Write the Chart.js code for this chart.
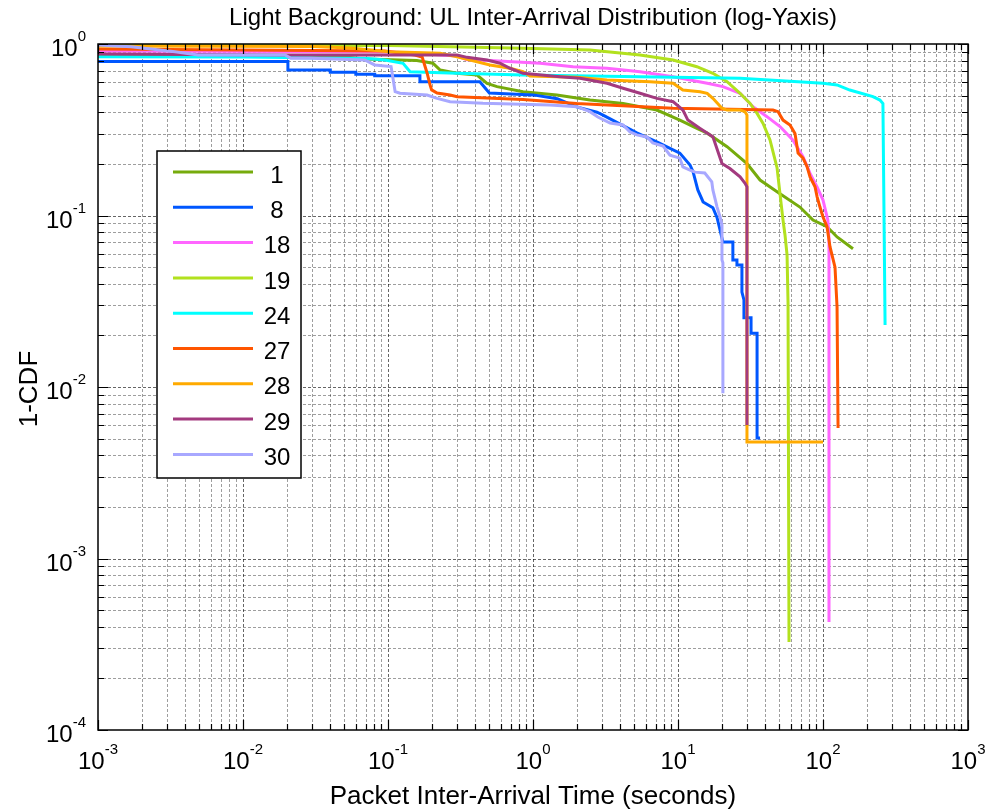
<!DOCTYPE html>
<html lang="en">
<head>
<meta charset="UTF-8">
<title>UL Inter-Arrival Distribution</title>
<script src="https://cdn.jsdelivr.net/npm/chart.js"></script>
<style>
  body { margin: 0; background: #fff; }
  canvas { display: block; }
</style>
</head>
<body>
<canvas id="grafico" width="990" height="811"></canvas>
<script>
  // series names + colours (legend order)
  const nomes = ['1', '8', '18', '19', '24', '27', '28', '29', '30'];
  const cores = ['#76AB0C', '#0057FF', '#FF66FF', '#B2E11E', '#00FFFF', '#FF5500', '#FFAA00', '#A33A7F', '#A8A8FF'];

  // 1-CDF curves (x = seconds, y = 1-CDF)
  const x1 = [0.001, 0.0467, 0.069, 0.158, 0.204, 0.229, 0.299, 0.411, 0.482, 0.565, 0.853, 1.46, 2.47, 4.18, 7.16, 10.3, 13.5, 15.9, 21.8, 29.9, 36.8, 50.5, 69.3, 85.3, 106.6, 125, 161];
  const y1 = [0.85, 0.846, 0.818, 0.8, 0.772, 0.705, 0.675, 0.659, 0.59, 0.564, 0.527, 0.504, 0.471, 0.45, 0.412, 0.36, 0.322, 0.302, 0.252, 0.201, 0.161, 0.134, 0.112, 0.094, 0.086, 0.075, 0.064];

  const x8 = [0.001, 0.0204, 0.0204, 0.04, 0.04, 0.06, 0.06, 0.081, 0.081, 0.166, 0.166, 0.43, 0.5, 1.0, 1.47, 2.0, 2.76, 3.04, 5.2, 7.2, 10.3, 12.1, 12.7, 13.7, 14.9, 17.4, 18.6, 20.4, 23.9, 23.9, 25.5, 25.5, 27.6, 27.6, 28.5, 28.5, 31.9, 31.9, 35.1, 35.1, 36.8];
  const y8 = [0.79, 0.79, 0.705, 0.705, 0.684, 0.684, 0.666, 0.666, 0.654, 0.654, 0.603, 0.603, 0.518, 0.505, 0.48, 0.43, 0.4, 0.385, 0.303, 0.268, 0.231, 0.197, 0.18, 0.141, 0.12, 0.111, 0.097, 0.07, 0.07, 0.055, 0.055, 0.0515, 0.0515, 0.0358, 0.0322, 0.0253, 0.0253, 0.0206, 0.0206, 0.00504, 0.00504];

  const x18 = [0.001, 0.1, 0.3, 0.35, 0.5, 1.12, 1.89, 3.24, 5.47, 9.25, 12.1, 15.9, 20.4, 26.8, 32.9, 41.1, 50.5, 62.1, 72.8, 81.4, 91, 100, 108, 110, 110];
  const y18 = [0.91, 0.9, 0.85, 0.81, 0.8, 0.772, 0.737, 0.722, 0.689, 0.645, 0.617, 0.59, 0.564, 0.516, 0.431, 0.377, 0.33, 0.275, 0.22, 0.176, 0.147, 0.123, 0.094, 0.072, 0.000426];

  const x19 = [0.001, 0.0314, 0.103, 0.853, 2.47, 5.47, 9.25, 13.5, 17.4, 21.8, 26.8, 31.4, 35.1, 38.6, 43.1, 48.2, 50.5, 53, 54.7, 56.5, 57.4, 58.3];
  const y19 = [0.987, 0.98, 0.98, 0.944, 0.923, 0.863, 0.807, 0.737, 0.675, 0.603, 0.516, 0.45, 0.394, 0.344, 0.276, 0.19, 0.134, 0.094, 0.077, 0.059, 0.031, 0.000326];

  const x24 = [0.001, 0.0103, 0.0728, 0.095, 0.127, 0.142, 0.299, 0.853, 5.47, 26.8, 100, 125, 153, 221, 247, 259, 268];
  const y24 = [0.843, 0.84, 0.823, 0.807, 0.772, 0.689, 0.675, 0.659, 0.645, 0.631, 0.59, 0.577, 0.539, 0.493, 0.471, 0.45, 0.023];

  const x27 = [0.001, 0.095, 0.153, 0.172, 0.186, 0.195, 0.2, 0.218, 0.268, 0.3, 0.853, 2.0, 9.25, 45.2, 49, 53, 59.2, 64.1, 67.3, 72.8, 77.6, 81.4, 88.1, 91, 95.3, 100, 106.6, 111.7, 121, 125, 127];
  const y27 = [0.935, 0.91, 0.863, 0.84, 0.678, 0.577, 0.54, 0.518, 0.504, 0.493, 0.475, 0.45, 0.422, 0.412, 0.403, 0.36, 0.337, 0.301, 0.231, 0.216, 0.193, 0.168, 0.147, 0.129, 0.112, 0.098, 0.086, 0.0658, 0.05, 0.0293, 0.00577];

  const x28 = [0.001, 0.0304, 0.0547, 0.103, 0.229, 0.299, 0.368, 0.505, 0.694, 0.853, 0.953, 2.01, 3.24, 6.41, 9.25, 10.8, 14.2, 15.9, 17.4, 20.1, 21.8, 26.8, 29, 29.9, 29.9, 100];
  const y28 = [0.973, 0.967, 0.948, 0.902, 0.883, 0.843, 0.807, 0.754, 0.722, 0.689, 0.651, 0.64, 0.617, 0.603, 0.59, 0.539, 0.527, 0.516, 0.482, 0.422, 0.412, 0.412, 0.403, 0.385, 0.00478, 0.00478];

  const x29 = [0.001, 0.0195, 0.299, 0.351, 0.482, 0.592, 0.694, 0.853, 1.53, 2.11, 3.24, 4.18, 5.47, 7.16, 9.25, 10.8, 11.7, 14.2, 17.4, 20.1, 22.8, 26.8, 29, 29.9, 29.9];
  const y29 = [0.874, 0.863, 0.863, 0.836, 0.807, 0.772, 0.722, 0.675, 0.645, 0.631, 0.59, 0.552, 0.516, 0.482, 0.461, 0.412, 0.36, 0.322, 0.288, 0.201, 0.188, 0.168, 0.154, 0.147, 0.006];

  const x30 = [0.001, 0.00169, 0.0034, 0.0049, 0.0195, 0.0214, 0.0294, 0.069, 0.081, 0.105, 0.112, 0.121, 0.186, 0.218, 0.268, 0.452, 1.31, 2.01, 2.47, 2.8, 3.4, 4.18, 4.67, 5.2, 6.1, 6.7, 7.9, 8.8, 10.3, 10.8, 12.1, 13.1, 15.3, 17.1, 17.4, 18.6, 19.5, 20.1, 20.1, 20.4, 20.4];
  const y30 = [0.987, 0.964, 0.902, 0.863, 0.863, 0.825, 0.825, 0.807, 0.755, 0.738, 0.527, 0.516, 0.504, 0.482, 0.461, 0.451, 0.441, 0.431, 0.403, 0.375, 0.346, 0.337, 0.307, 0.295, 0.287, 0.265, 0.254, 0.225, 0.216, 0.192, 0.184, 0.179, 0.177, 0.157, 0.141, 0.112, 0.098, 0.088, 0.055, 0.053, 0.0092];

  // axis decades and their labels (10^e)
  const expoentesX = [-3, -2, -1, 0, 1, 2, 3];
  const expoentesY = [-4, -3, -2, -1, 0];

  const titulo = 'Light Background: UL Inter-Arrival Distribution (log-Yaxis)';
  const tituloX = 'Packet Inter-Arrival Time (seconds)';
  const tituloY = '1-CDF';

  const todosX = [x1, x8, x18, x19, x24, x27, x28, x29, x30];
  const todosY = [y1, y8, y18, y19, y24, y27, y28, y29, y30];

  const fonte = "'Liberation Sans', Arial, sans-serif";

  function pontos(xs, ys) {
    const lista = [];
    for (let i = 0; i < xs.length; i++) {
      lista.push({ x: xs[i], y: ys[i] });
    }
    return lista;
  }

  const datasets = [];
  for (let i = 0; i < nomes.length; i++) {
    datasets.push({
      label: nomes[i],
      data: pontos(todosX[i], todosY[i]),
      borderColor: cores[i],
      backgroundColor: cores[i],
      borderWidth: 3,
      pointRadius: 0,
      showLine: true,
      fill: false,
      tension: 0,
      order: nomes.length - i  // later series drawn on top, like matlab
    });
  }

  // all 1..9 x 10^k values inside a range, for grid + minor ticks
  function valoresLog(eMin, eMax) {
    const v = [];
    for (let e = eMin; e < eMax; e++) {
      for (let m = 1; m <= 9; m++) v.push({ val: m * Math.pow(10, e), major: m == 1 });
    }
    v.push({ val: Math.pow(10, eMax), major: true });
    return v;
  }

  function potencia(ctx, exp, x, y, alinhar) {
    ctx.font = '24px ' + fonte;
    const w1 = ctx.measureText('10').width;
    ctx.font = '15px ' + fonte;
    const w2 = ctx.measureText(String(exp)).width;
    let inicio = x - (w1 + w2) / 2;
    if (alinhar == 'right') inicio = x - (w1 + w2);
    ctx.textAlign = 'left';
    ctx.textBaseline = 'alphabetic';
    ctx.font = '24px ' + fonte;
    ctx.fillText('10', inicio, y);
    ctx.font = '15px ' + fonte;
    ctx.fillText(String(exp), inicio + w1, y - 15);
  }

  const desenhoMatlab = {
    id: 'desenhoMatlab',
    beforeDraw(chart) {
      const ctx = chart.ctx;
      ctx.save();
      ctx.fillStyle = '#fff';
      ctx.fillRect(0, 0, chart.width, chart.height);
      ctx.restore();
    },
    beforeDatasetsDraw(chart) {
      const ctx = chart.ctx;
      const a = chart.chartArea;
      const sx = chart.scales.x, sy = chart.scales.y;
      ctx.save();
      ctx.lineWidth = 1;
      ctx.setLineDash([3, 2]);
      valoresLog(-3, 3).forEach(function (t) {
        const px = Math.round(sx.getPixelForValue(t.val)) + 0.5;
        if (px <= a.left + 1 || px >= a.right - 1) return;
        ctx.strokeStyle = t.major ? 'rgba(0,0,0,0.6)' : 'rgba(0,0,0,0.38)';
        ctx.beginPath();
        ctx.moveTo(px, a.top);
        ctx.lineTo(px, a.bottom);
        ctx.stroke();
      });
      valoresLog(-4, 0).forEach(function (t) {
        const py = Math.round(sy.getPixelForValue(t.val)) + 0.5;
        if (py <= a.top + 1 || py >= a.bottom - 1) return;
        ctx.strokeStyle = t.major ? 'rgba(0,0,0,0.6)' : 'rgba(0,0,0,0.38)';
        ctx.beginPath();
        ctx.moveTo(a.left, py);
        ctx.lineTo(a.right, py);
        ctx.stroke();
      });
      ctx.restore();
    },
    afterDatasetsDraw(chart) {
      const ctx = chart.ctx;
      const a = chart.chartArea;
      const sx = chart.scales.x, sy = chart.scales.y;
      ctx.save();
      ctx.setLineDash([]);
      ctx.strokeStyle = '#000';
      ctx.lineWidth = 1.5;
      ctx.strokeRect(a.left, a.top, a.right - a.left, a.bottom - a.top);

      // inward ticks on all four sides
      ctx.lineWidth = 1.2;
      valoresLog(-3, 3).forEach(function (t) {
        const px = Math.round(sx.getPixelForValue(t.val)) + 0.5;
        const len = t.major ? 10 : 6;
        ctx.beginPath();
        ctx.moveTo(px, a.bottom); ctx.lineTo(px, a.bottom - len);
        ctx.moveTo(px, a.top); ctx.lineTo(px, a.top + len);
        ctx.stroke();
      });
      valoresLog(-4, 0).forEach(function (t) {
        const py = Math.round(sy.getPixelForValue(t.val)) + 0.5;
        const len = t.major ? 10 : 6;
        ctx.beginPath();
        ctx.moveTo(a.left, py); ctx.lineTo(a.left + len, py);
        ctx.moveTo(a.right, py); ctx.lineTo(a.right - len, py);
        ctx.stroke();
      });

      // tick labels
      ctx.fillStyle = '#000';
      expoentesX.forEach(function (e) {
        potencia(ctx, e, sx.getPixelForValue(Math.pow(10, e)), a.bottom + 39, 'center');
      });
      expoentesY.forEach(function (e) {
        potencia(ctx, e, 86, sy.getPixelForValue(Math.pow(10, e)) + 12, 'right');
      });

      // title + axis labels
      ctx.textAlign = 'center';
      ctx.textBaseline = 'alphabetic';
      ctx.font = '24px ' + fonte;
      ctx.fillText(titulo, (a.left + a.right) / 2, 25);
      ctx.font = '26px ' + fonte;
      ctx.fillText(tituloX, (a.left + a.right) / 2, 804);
      ctx.save();
      ctx.translate(37, (a.top + a.bottom) / 2 + 2);
      ctx.rotate(-Math.PI / 2);
      ctx.fillText(tituloY, 0, 0);
      ctx.restore();

      // legend box
      const lx = 157, ly = 151, lw = 144, lh = 327;
      ctx.fillStyle = '#fff';
      ctx.fillRect(lx, ly, lw, lh);
      ctx.strokeStyle = '#000';
      ctx.lineWidth = 1.5;
      ctx.strokeRect(lx, ly, lw, lh);
      chart.data.datasets.forEach(function (ds, i) {
        const yy = 172 + i * 35.3;
        ctx.strokeStyle = ds.borderColor;
        ctx.lineWidth = 3;
        ctx.beginPath();
        ctx.moveTo(173, yy);
        ctx.lineTo(253, yy);
        ctx.stroke();
        ctx.fillStyle = '#000';
        ctx.font = '24px ' + fonte;
        ctx.textAlign = 'center';
        ctx.textBaseline = 'middle';
        ctx.fillText(ds.label, 277, yy + 4);
      });
      ctx.restore();
    }
  };

  const grafico = new Chart(document.getElementById('grafico'), {
    type: 'scatter',
    data: { datasets: datasets },
    options: {
      responsive: false,
      animation: false,
      layout: { padding: { left: 98, top: 44, right: 22, bottom: 81 } },
      plugins: {
        legend: { display: false },
        tooltip: { enabled: false }
      },
      scales: {
        x: {
          type: 'logarithmic',
          min: 0.001,
          max: 1000,
          display: false
        },
        y: {
          type: 'logarithmic',
          min: 0.0001,
          max: 1,
          display: false
        }
      }
    },
    plugins: [desenhoMatlab]
  });
</script>
</body>
</html>
